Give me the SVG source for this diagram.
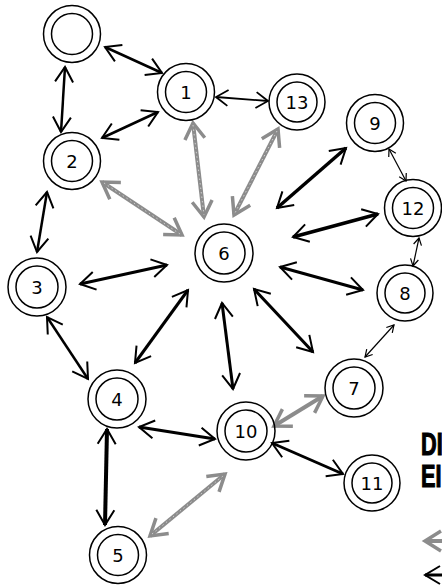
<svg xmlns="http://www.w3.org/2000/svg" width="442" height="585" viewBox="0 0 442 585">
<style>
.node circle{fill:none;stroke:#000;stroke-width:1.5}
.node text{font-family:"DejaVu Sans","Verdana",sans-serif;font-size:18px;text-anchor:middle;fill:#000}
.b{stroke:#000;fill:none;stroke-linecap:butt;marker-start:url(#mb);marker-end:url(#mb)}
.t{stroke:#000;fill:none;stroke-width:1.2;marker-start:url(#mt);marker-end:url(#mt)}
.m{stroke:#000;fill:none;stroke-width:1.8;marker-start:url(#mm);marker-end:url(#mm)}
.g{stroke:#8c8c8c;fill:none;stroke-width:4;marker-start:url(#mg);marker-end:url(#mg)}
.gt{stroke:#cfcfcf;fill:none;stroke-width:1;stroke-dasharray:1.5 3}
.lg{font-family:"Liberation Sans",Arial,sans-serif;font-weight:bold;font-size:31px;fill:#000;stroke:#000;stroke-width:1.2}
</style>
<defs>
<marker id="mb" markerUnits="userSpaceOnUse" viewBox="-20 -12 24 24" markerWidth="24" markerHeight="24" refX="0" refY="0" orient="auto-start-reverse">
<path d="M-15,-9 L0,0 L-15,9" fill="none" stroke="#000" stroke-width="2"/>
</marker>
<marker id="mg" markerUnits="userSpaceOnUse" viewBox="-22 -14 26 28" markerWidth="26" markerHeight="28" refX="0" refY="0" orient="auto-start-reverse">
<path d="M-16,-10 L0,0 L-16,10" fill="none" stroke="#8c8c8c" stroke-width="3.5"/>
</marker>
<marker id="mt" markerUnits="userSpaceOnUse" viewBox="-10 -6 12 12" markerWidth="12" markerHeight="12" refX="0" refY="0" orient="auto-start-reverse">
<path d="M-7,-4 L0,0 L-7,4" fill="none" stroke="#000" stroke-width="1.2"/>
</marker>
<marker id="mm" markerUnits="userSpaceOnUse" viewBox="-18 -10 20 20" markerWidth="20" markerHeight="20" refX="0" refY="0" orient="auto-start-reverse">
<path d="M-12,-8 L0,0 L-12,8" fill="none" stroke="#000" stroke-width="1.8"/>
</marker>
</defs>
<rect width="442" height="585" fill="#fff"/>
<g id="connectors">
<line class="b" x1="105" y1="47" x2="162" y2="73" stroke-width="2.5"/>
<line class="b" x1="65" y1="67" x2="61" y2="132" stroke-width="2.5"/>
<line class="b" x1="102" y1="138" x2="158" y2="112" stroke-width="2.5"/>
<line class="m" x1="216" y1="97" x2="268" y2="101"/>
<line class="g" x1="193" y1="123" x2="204" y2="217"/>
<line class="gt" x1="193" y1="125" x2="204" y2="215"/>
<line class="g" x1="278" y1="129" x2="234" y2="215"/>
<line class="gt" x1="277" y1="131" x2="235" y2="213"/>
<line class="g" x1="102" y1="182" x2="182" y2="235"/>
<line class="gt" x1="104" y1="183" x2="180" y2="234"/>
<line class="b" x1="47" y1="192" x2="37" y2="252" stroke-width="2.5"/>
<line class="b" x1="80" y1="284" x2="167" y2="265" stroke-width="3"/>
<line class="b" x1="47" y1="317" x2="88" y2="379" stroke-width="2.5"/>
<line class="b" x1="135" y1="363" x2="188" y2="290" stroke-width="3"/>
<line class="b" x1="222" y1="303" x2="233" y2="389" stroke-width="3"/>
<line class="b" x1="254" y1="289" x2="313" y2="352" stroke-width="3"/>
<line class="b" x1="277" y1="208" x2="346" y2="148" stroke-width="3.5"/>
<line class="b" x1="293" y1="237" x2="378" y2="214" stroke-width="3.5"/>
<line class="b" x1="280" y1="267" x2="363" y2="290" stroke-width="3"/>
<line class="t" x1="389" y1="149" x2="406" y2="181"/>
<line class="t" x1="419" y1="238" x2="413" y2="266"/>
<line class="t" x1="394" y1="325" x2="365" y2="357"/>
<line class="b" x1="139" y1="427" x2="215" y2="439" stroke-width="3"/>
<line class="b" x1="107" y1="429" x2="105" y2="525" stroke-width="4"/>
<line class="g" x1="274" y1="426" x2="323" y2="396" stroke-width="3"/>
<line class="b" x1="272" y1="443" x2="343" y2="474" stroke-width="3"/>
<line class="g" x1="150" y1="536" x2="225" y2="474"/>
<line class="gt" x1="152" y1="534" x2="223" y2="476"/>
</g>
<g id="node-empty" class="node"><circle cx="72" cy="34" r="28.5"/><circle cx="72" cy="34" r="20.5"/></g>
<g id="node-1" class="node"><circle cx="186" cy="92" r="28.5"/><circle cx="186" cy="92" r="20.5"/><text x="186" y="98.5">1</text></g>
<g id="node-13" class="node"><circle cx="297" cy="102" r="28"/><circle cx="297" cy="102" r="20"/><text x="297" y="108.5">13</text></g>
<g id="node-9" class="node"><circle cx="375" cy="123" r="28.5"/><circle cx="375" cy="123" r="20.5"/><text x="375" y="129.5">9</text></g>
<g id="node-12" class="node"><circle cx="413" cy="208" r="28.5"/><circle cx="413" cy="208" r="20.5"/><text x="413" y="214.5">12</text></g>
<g id="node-8" class="node"><circle cx="405" cy="293" r="28"/><circle cx="405" cy="293" r="20"/><text x="405" y="299.5">8</text></g>
<g id="node-2" class="node"><circle cx="72" cy="161" r="28.5"/><circle cx="72" cy="161" r="20.5"/><text x="72" y="167.5">2</text></g>
<g id="node-3" class="node"><circle cx="37" cy="287" r="29"/><circle cx="37" cy="287" r="21"/><text x="37" y="293.5">3</text></g>
<g id="node-6" class="node"><circle cx="224" cy="253" r="29"/><circle cx="224" cy="253" r="21"/><text x="224" y="259.5">6</text></g>
<g id="node-4" class="node"><circle cx="117" cy="399" r="29"/><circle cx="117" cy="399" r="21"/><text x="117" y="405.5">4</text></g>
<g id="node-7" class="node"><circle cx="354" cy="388" r="29"/><circle cx="354" cy="388" r="21"/><text x="354" y="394.5">7</text></g>
<g id="node-10" class="node"><circle cx="246" cy="431" r="29"/><circle cx="246" cy="431" r="21"/><text x="246" y="437.5">10</text></g>
<g id="node-11" class="node"><circle cx="372" cy="483" r="28"/><circle cx="372" cy="483" r="20"/><text x="372" y="489.5">11</text></g>
<g id="node-5" class="node"><circle cx="118" cy="555" r="28.5"/><circle cx="118" cy="555" r="20.5"/><text x="118" y="561.5">5</text></g>
<g id="legend">
<text class="lg" transform="translate(421,455) scale(0.7,1)">DI</text>
<text class="lg" transform="translate(421,487) scale(0.7,1)">EI</text>
<line class="g" x1="425" y1="541" x2="470" y2="541" stroke-width="3"/>
<line class="b" x1="425" y1="575" x2="470" y2="575" stroke-width="3"/>
</g>
</svg>
